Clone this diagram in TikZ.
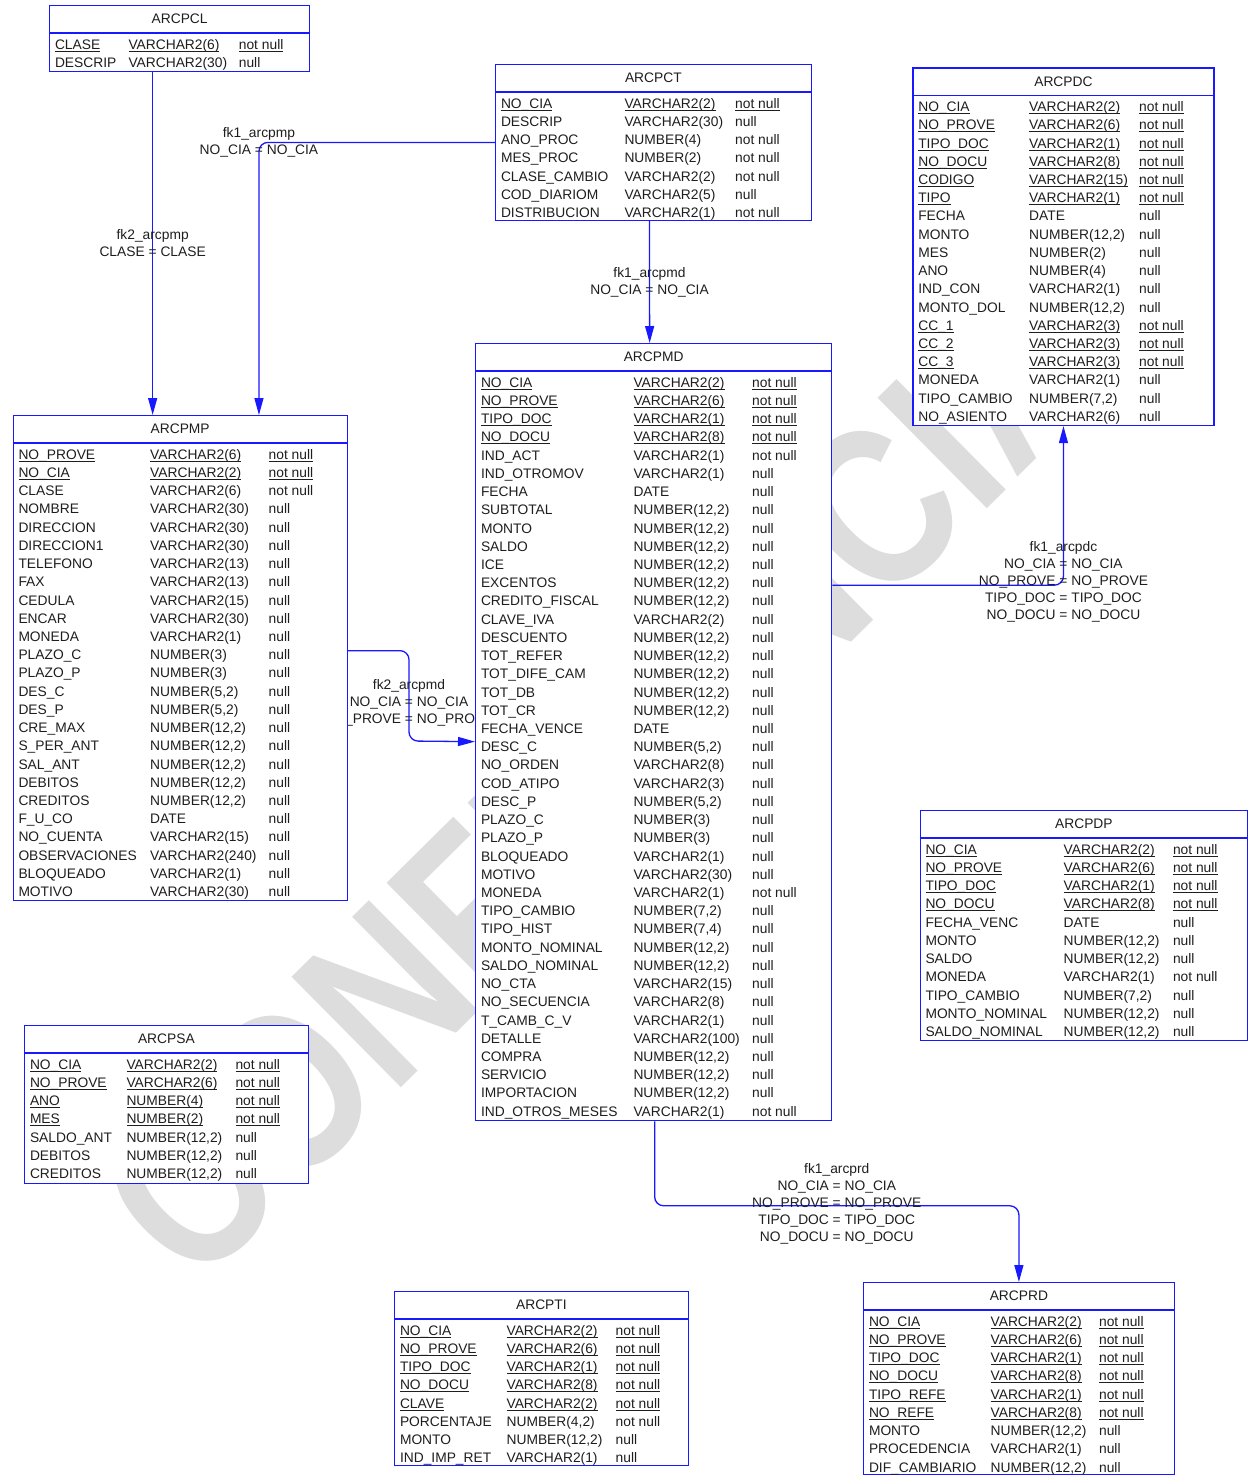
\documentclass[tikz,border=0pt]{standalone}
\usepackage{fontspec}
\setmainfont{Liberation Sans}
\usetikzlibrary{arrows.meta,positioning}

\definecolor{fkblue}{RGB}{25,25,255}
\definecolor{ink}{RGB}{30,30,30}
\definecolor{wmgray}{RGB}{221,221,221}

\pgfdeclarelayer{wm}
\pgfdeclarelayer{links}
\pgfsetlayers{wm,links,main}

\newcommand{\tblfont}{\fontsize{13.8}{17}\selectfont}
\newcommand{\keyul}[1]{\setbox0\hbox{#1}\rlap{\rule[-2.4pt]{\wd0}{0.9pt}}\box0}
\newcommand{\plaincell}[1]{#1}

% \tblbody{node}{title}{type col}{null col}{rows key/name/type/null}
\newcommand{\tblbody}[5]{%
  \node[tbltitle] at ([yshift=-14pt]#1.north) {#2};
  \draw[tblline] ([yshift=-28pt]#1.north west) -- ([yshift=-28pt]#1.north east);
  \foreach \fldkey/\fldname/\fldtype/\fldnull [count=\r from 0] in {#5} {
    \if k\fldkey \let\cellfmt\keyul \else \let\cellfmt\plaincell \fi
    \node[cell] at ([xshift=5.8pt, yshift={-44.3pt-\r*18.22pt}]#1.north west) {\cellfmt{\fldname}};
    \node[cell] at ([xshift=#3pt, yshift={-44.3pt-\r*18.22pt}]#1.north west) {\cellfmt{\fldtype}};
    \node[cell] at ([xshift=#4pt, yshift={-44.3pt-\r*18.22pt}]#1.north west) {\cellfmt{\fldnull}};
  }%
}

\begin{document}
\begin{tikzpicture}[x=1pt,y=-1pt,>={Triangle[length=17pt,width=9pt]},
  tbl/.style={draw=fkblue,fill=white,line width=1.3pt,anchor=north west,inner sep=0pt},
  tblline/.style={draw=fkblue,line width=1.3pt},
  tbltitle/.style={font=\tblfont,text=ink,inner sep=0pt},
  cell/.style={font=\tblfont,text=ink,anchor=base west,inner sep=0pt},
  fk/.style={->,draw=fkblue,line width=1.3pt,rounded corners=9pt},
  fklabel/.style={font=\tblfont,text=ink,align=center,inner sep=0pt}]
\useasboundingbox (0,0) rectangle (1248,1475);

% tables
\node[tbl,minimum width=260pt,minimum height=65.5pt] (arcpcl) at (49,5) {};
\tblbody{arcpcl}{ARCPCL}{79.3}{189.7}{k/CLASE/VARCHAR2(6)/not null, o/DESCRIP/VARCHAR2(30)/null}

\node[tbl,minimum width=315.5pt,minimum height=155.5pt] (arcpct) at (495,64) {};
\tblbody{arcpct}{ARCPCT}{129.3}{240}{k/NO\_CIA/VARCHAR2(2)/not null, o/DESCRIP/VARCHAR2(30)/null,
  o/ANO\_PROC/NUMBER(4)/not null, o/MES\_PROC/NUMBER(2)/not null, o/CLASE\_CAMBIO/VARCHAR2(2)/not null,
  o/COD\_DIARIOM/VARCHAR2(5)/null, o/DISTRIBUCION/VARCHAR2(1)/not null}

\node[tbl,minimum width=301pt,minimum height=357.5pt] (arcpdc) at (912.3,67.3) {};
\tblbody{arcpdc}{ARCPDC}{116.7}{226.7}{k/NO\_CIA/VARCHAR2(2)/not null, k/NO\_PROVE/VARCHAR2(6)/not null,
  k/TIPO\_DOC/VARCHAR2(1)/not null, k/NO\_DOCU/VARCHAR2(8)/not null, k/CODIGO/VARCHAR2(15)/not null,
  k/TIPO/VARCHAR2(1)/not null, o/FECHA/DATE/null, o/MONTO/{NUMBER(12,2)}/null, o/MES/NUMBER(2)/null,
  o/ANO/NUMBER(4)/null, o/IND\_CON/VARCHAR2(1)/null, o/MONTO\_DOL/{NUMBER(12,2)}/null,
  k/CC\_1/VARCHAR2(3)/not null, k/CC\_2/VARCHAR2(3)/not null, k/CC\_3/VARCHAR2(3)/not null,
  o/MONEDA/VARCHAR2(1)/null, o/TIPO\_CAMBIO/{NUMBER(7,2)}/null, o/NO\_ASIENTO/VARCHAR2(6)/null}

\node[tbl,minimum width=334pt,minimum height=485pt] (arcpmp) at (12.5,415) {};
\tblbody{arcpmp}{ARCPMP}{137.5}{256}{k/NO\_PROVE/VARCHAR2(6)/not null, k/NO\_CIA/VARCHAR2(2)/not null,
  o/CLASE/VARCHAR2(6)/not null, o/NOMBRE/VARCHAR2(30)/null, o/DIRECCION/VARCHAR2(30)/null,
  o/DIRECCION1/VARCHAR2(30)/null, o/TELEFONO/VARCHAR2(13)/null, o/FAX/VARCHAR2(13)/null,
  o/CEDULA/VARCHAR2(15)/null, o/ENCAR/VARCHAR2(30)/null, o/MONEDA/VARCHAR2(1)/null,
  o/PLAZO\_C/NUMBER(3)/null, o/PLAZO\_P/NUMBER(3)/null, o/DES\_C/{NUMBER(5,2)}/null,
  o/DES\_P/{NUMBER(5,2)}/null, o/CRE\_MAX/{NUMBER(12,2)}/null, o/S\_PER\_ANT/{NUMBER(12,2)}/null,
  o/SAL\_ANT/{NUMBER(12,2)}/null, o/DEBITOS/{NUMBER(12,2)}/null, o/CREDITOS/{NUMBER(12,2)}/null,
  o/F\_U\_CO/DATE/null, o/NO\_CUENTA/VARCHAR2(15)/null, o/OBSERVACIONES/VARCHAR2(240)/null,
  o/BLOQUEADO/VARCHAR2(1)/null, o/MOTIVO/VARCHAR2(30)/null}

\node[tbl,minimum width=356pt,minimum height=777pt] (arcpmd) at (475,343) {};
\tblbody{arcpmd}{ARCPMD}{158.3}{277}{k/NO\_CIA/VARCHAR2(2)/not null, k/NO\_PROVE/VARCHAR2(6)/not null,
  k/TIPO\_DOC/VARCHAR2(1)/not null, k/NO\_DOCU/VARCHAR2(8)/not null, o/IND\_ACT/VARCHAR2(1)/not null,
  o/IND\_OTROMOV/VARCHAR2(1)/null, o/FECHA/DATE/null, o/SUBTOTAL/{NUMBER(12,2)}/null,
  o/MONTO/{NUMBER(12,2)}/null, o/SALDO/{NUMBER(12,2)}/null, o/ICE/{NUMBER(12,2)}/null,
  o/EXCENTOS/{NUMBER(12,2)}/null, o/CREDITO\_FISCAL/{NUMBER(12,2)}/null, o/CLAVE\_IVA/VARCHAR2(2)/null,
  o/DESCUENTO/{NUMBER(12,2)}/null, o/TOT\_REFER/{NUMBER(12,2)}/null, o/TOT\_DIFE\_CAM/{NUMBER(12,2)}/null,
  o/TOT\_DB/{NUMBER(12,2)}/null, o/TOT\_CR/{NUMBER(12,2)}/null, o/FECHA\_VENCE/DATE/null,
  o/DESC\_C/{NUMBER(5,2)}/null, o/NO\_ORDEN/VARCHAR2(8)/null, o/COD\_ATIPO/VARCHAR2(3)/null,
  o/DESC\_P/{NUMBER(5,2)}/null, o/PLAZO\_C/NUMBER(3)/null, o/PLAZO\_P/NUMBER(3)/null,
  o/BLOQUEADO/VARCHAR2(1)/null, o/MOTIVO/VARCHAR2(30)/null, o/MONEDA/VARCHAR2(1)/not null,
  o/TIPO\_CAMBIO/{NUMBER(7,2)}/null, o/TIPO\_HIST/{NUMBER(7,4)}/null, o/MONTO\_NOMINAL/{NUMBER(12,2)}/null,
  o/SALDO\_NOMINAL/{NUMBER(12,2)}/null, o/NO\_CTA/VARCHAR2(15)/null, o/NO\_SECUENCIA/VARCHAR2(8)/null,
  o/T\_CAMB\_C\_V/VARCHAR2(1)/null, o/DETALLE/VARCHAR2(100)/null, o/COMPRA/{NUMBER(12,2)}/null,
  o/SERVICIO/{NUMBER(12,2)}/null, o/IMPORTACION/{NUMBER(12,2)}/null, o/IND\_OTROS\_MESES/VARCHAR2(1)/not null}

\node[tbl,minimum width=327.5pt,minimum height=230pt] (arcpdp) at (919.5,810) {};
\tblbody{arcpdp}{ARCPDP}{144}{253.3}{k/NO\_CIA/VARCHAR2(2)/not null, k/NO\_PROVE/VARCHAR2(6)/not null,
  k/TIPO\_DOC/VARCHAR2(1)/not null, k/NO\_DOCU/VARCHAR2(8)/not null, o/FECHA\_VENC/DATE/null,
  o/MONTO/{NUMBER(12,2)}/null, o/SALDO/{NUMBER(12,2)}/null, o/MONEDA/VARCHAR2(1)/not null,
  o/TIPO\_CAMBIO/{NUMBER(7,2)}/null, o/MONTO\_NOMINAL/{NUMBER(12,2)}/null, o/SALDO\_NOMINAL/{NUMBER(12,2)}/null}

\node[tbl,minimum width=283.5pt,minimum height=157.5pt] (arcpsa) at (24,1025) {};
\tblbody{arcpsa}{ARCPSA}{102.3}{211.3}{k/NO\_CIA/VARCHAR2(2)/not null, k/NO\_PROVE/VARCHAR2(6)/not null,
  k/ANO/NUMBER(4)/not null, k/MES/NUMBER(2)/not null, o/SALDO\_ANT/{NUMBER(12,2)}/null,
  o/DEBITOS/{NUMBER(12,2)}/null, o/CREDITOS/{NUMBER(12,2)}/null}

\node[tbl,minimum width=293.5pt,minimum height=174pt] (arcpti) at (394,1291) {};
\tblbody{arcpti}{ARCPTI}{112.4}{221.5}{k/NO\_CIA/VARCHAR2(2)/not null, k/NO\_PROVE/VARCHAR2(6)/not null,
  k/TIPO\_DOC/VARCHAR2(1)/not null, k/NO\_DOCU/VARCHAR2(8)/not null, k/CLAVE/VARCHAR2(2)/not null,
  o/PORCENTAJE/{NUMBER(4,2)}/not null, o/MONTO/{NUMBER(12,2)}/null, o/IND\_IMP\_RET/VARCHAR2(1)/null}

\node[tbl,minimum width=310.5pt,minimum height=192pt] (arcprd) at (863,1282) {};
\tblbody{arcprd}{ARCPRD}{127.4}{235.9}{k/NO\_CIA/VARCHAR2(2)/not null, k/NO\_PROVE/VARCHAR2(6)/not null,
  k/TIPO\_DOC/VARCHAR2(1)/not null, k/NO\_DOCU/VARCHAR2(8)/not null, k/TIPO\_REFE/VARCHAR2(1)/not null,
  k/NO\_REFE/VARCHAR2(8)/not null, o/MONTO/{NUMBER(12,2)}/null, o/PROCEDENCIA/VARCHAR2(1)/null,
  o/DIF\_CAMBIARIO/{NUMBER(12,2)}/null}

% foreign keys, under the tables
\begin{pgfonlayer}{links}
\coordinate (pmd-bend) at (409,741);
\draw[fk] ([xshift=-27pt]arcpcl.south) -- node[fklabel] {fk2\_arcpmp\\CLASE = CLASE} ([xshift=-27.5pt]arcpmp.north);
\draw[fk] (arcpct.west) -| node[fklabel,pos=0.5] {fk1\_arcpmp\\NO\_CIA = NO\_CIA} ([xshift=78.8pt]arcpmp.north);
\draw[fk] ([xshift=-4pt]arcpct.south) -- node[fklabel] {fk1\_arcpmd\\NO\_CIA = NO\_CIA} ([xshift=-4pt]arcpmd.north);
\draw[fk] ([yshift=7.5pt]arcpmp.east) -| node[fklabel,pos=0.79] {fk2\_arcpmd\\NO\_CIA = NO\_CIA\\NO\_PROVE = NO\_PROVE} (pmd-bend) -- ([yshift=-9.5pt]arcpmd.west);
\draw[fk] ([yshift=147pt]arcpmd.east) -| node[fklabel,pos=0.5,yshift=3.5pt] {fk1\_arcpdc\\NO\_CIA = NO\_CIA\\NO\_PROVE = NO\_PROVE\\TIPO\_DOC = TIPO\_DOC\\NO\_DOCU = NO\_DOCU} (arcpdc.south);
\draw[fk] ([xshift=1pt]arcpmd.south) -- ++(0,84.5) -| node[fklabel,pos=0.25,yshift=1.5pt] {fk1\_arcprd\\NO\_CIA = NO\_CIA\\NO\_PROVE = NO\_PROVE\\TIPO\_DOC = TIPO\_DOC\\NO\_DOCU = NO\_DOCU} (arcprd.north);
\end{pgfonlayer}

% watermark
\begin{pgfonlayer}{wm}
\node[anchor=base west,rotate=44.7,inner sep=0pt,text=wmgray,font=\fontsize{226}{226}\selectfont\bfseries] (stamp) at (195,1292) {\scalebox{0.82}[1]{CONFIDENCIAL}};
\end{pgfonlayer}
\end{tikzpicture}
\end{document}
